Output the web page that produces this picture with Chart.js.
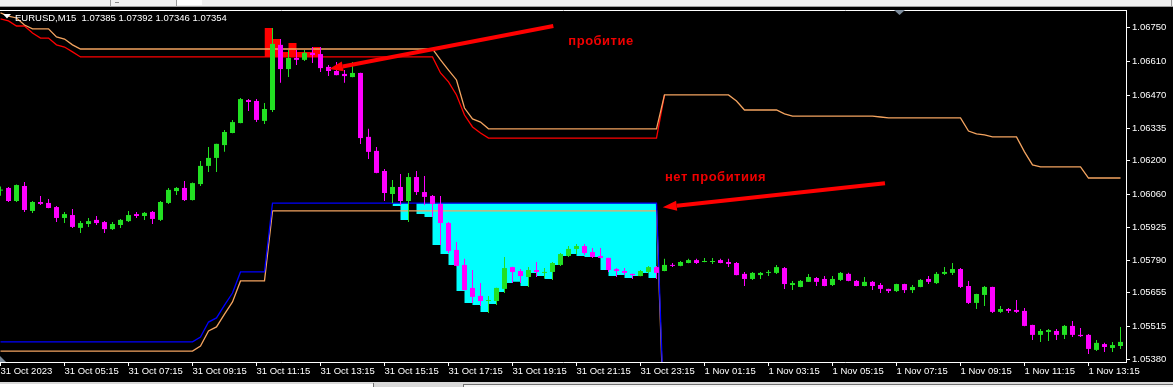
<!DOCTYPE html>
<html><head><meta charset="utf-8">
<script src="https://cdn.jsdelivr.net/npm/chart.js@4.4.0/dist/chart.umd.min.js"></script>
<style>html,body{margin:0;padding:0;background:#000;overflow:hidden}canvas{display:block}</style>
</head><body>
<canvas id="c" width="1173" height="387"></canvas>
<script>
// ---------- DATA ----------
const chartTitle = 'EURUSD,M15  1.07385 1.07392 1.07346 1.07354';
const xTickBars = [0,8,16,24,32,40,48,56,64,72,80,88,96,104,112,120,128,136];
const xTickLabels = ['31 Oct 2023','31 Oct 05:15','31 Oct 07:15','31 Oct 09:15','31 Oct 11:15','31 Oct 13:15','31 Oct 15:15','31 Oct 17:15','31 Oct 19:15','31 Oct 21:15','31 Oct 23:15','1 Nov 01:15','1 Nov 03:15','1 Nov 05:15','1 Nov 07:15','1 Nov 09:15','1 Nov 11:15','1 Nov 13:15'];
const priceTicks = [1.05380,1.05515,1.05655,1.05790,1.05925,1.06060,1.06200,1.06335,1.06470,1.06610,1.06750];

const opens = [
1.06077,1.06088,1.06034,1.06096,1.05993,1.06030,1.06026,1.06009,1.05964,1.05976,
1.05923,1.05939,1.05956,1.05947,1.05918,1.05935,1.05951,1.05980,1.05972,1.05989,
1.05956,1.06026,1.06075,1.06088,1.06038,1.06104,1.06179,1.06212,1.06265,1.06315,
1.06356,1.06451,1.06447,1.06365,1.06410,1.06679,1.06579,1.06625,1.06617,1.06646,
1.06641,1.06588,1.06571,1.06559,1.06546,1.06563,1.06299,1.06241,1.06158,1.06063,
1.06092,1.06034,1.06133,1.06071,1.06055,1.06022,1.05943,1.05832,1.05770,1.05675,
1.05642,1.05621,1.05621,1.05671,1.05761,1.05745,1.05720,1.05749,1.05737,1.05741,
1.05770,1.05807,1.05836,1.05848,1.05823,1.05807,1.05799,1.05753,1.05745,1.05733,
1.05724,1.05741,1.05761,1.05745,1.05770,1.05766,1.05778,1.05790,1.05782,1.05782,
1.05790,1.05782,1.05778,1.05733,1.05712,1.05728,1.05737,1.05737,1.05757,1.05687,
1.05679,1.05700,1.05716,1.05712,1.05687,1.05708,1.05733,1.05704,1.05683,1.05700,
1.05687,1.05671,1.05662,1.05691,1.05666,1.05679,1.05712,1.05695,1.05733,1.05737,
1.05753,1.05683,1.05613,1.05646,1.05679,1.05576,1.05588,1.05584,1.05580,1.05522,
1.05481,1.05493,1.05497,1.05481,1.05518,1.05481,1.05481,1.05419,1.05443,1.05427,
1.05435];
const highs = [
1.06094,1.06092,1.06102,1.06113,1.06034,1.06055,1.06042,1.06013,1.05989,1.06001,
1.05951,1.05964,1.05972,1.05951,1.05947,1.05960,1.05993,1.05989,1.05989,1.05993,
1.06034,1.06088,1.06092,1.06117,1.06110,1.06199,1.06257,1.06271,1.06327,1.06369,
1.06460,1.06455,1.06455,1.06439,1.06749,1.06703,1.06658,1.06658,1.06658,1.06670,
1.06670,1.06596,1.06608,1.06575,1.06608,1.06564,1.06332,1.06257,1.06166,1.06121,
1.06146,1.06150,1.06158,1.06137,1.06059,1.06055,1.05947,1.05865,1.05795,1.05749,
1.05695,1.05642,1.05676,1.05803,1.05762,1.05753,1.05761,1.05782,1.05757,1.05782,
1.05819,1.05848,1.05856,1.05856,1.05840,1.05840,1.05800,1.05757,1.05757,1.05734,
1.05749,1.05766,1.05766,1.05795,1.05778,1.05786,1.05795,1.05795,1.05799,1.05799,
1.05795,1.05795,1.05782,1.05741,1.05741,1.05741,1.05749,1.05770,1.05761,1.05704,
1.05708,1.05733,1.05720,1.05724,1.05724,1.05741,1.05738,1.05708,1.05720,1.05704,
1.05695,1.05672,1.05692,1.05692,1.05687,1.05712,1.05724,1.05741,1.05761,1.05778,
1.05757,1.05704,1.05651,1.05683,1.05680,1.05600,1.05592,1.05625,1.05592,1.05523,
1.05505,1.05505,1.05505,1.05522,1.05538,1.05509,1.05485,1.05460,1.05448,1.05452,
1.05514];
const lows = [
1.06056,1.06030,1.06030,1.05989,1.05984,1.06018,1.06004,1.05947,1.05943,1.05923,
1.05902,1.05927,1.05935,1.05902,1.05914,1.05923,1.05947,1.05964,1.05956,1.05939,
1.05951,1.06022,1.06059,1.06034,1.06036,1.06096,1.06154,1.06154,1.06237,1.06314,
1.06355,1.06406,1.06360,1.06352,1.06402,1.06522,1.06546,1.06596,1.06612,1.06604,
1.06567,1.06550,1.06553,1.06522,1.06545,1.06270,1.06208,1.06149,1.06034,1.06026,
1.06018,1.05947,1.06059,1.06018,1.05968,1.05852,1.05819,1.05765,1.05665,1.05613,
1.05600,1.05571,1.05604,1.05654,1.05695,1.05695,1.05679,1.05720,1.05716,1.05708,
1.05766,1.05803,1.05815,1.05811,1.05799,1.05798,1.05741,1.05720,1.05728,1.05712,
1.05723,1.05737,1.05712,1.05744,1.05761,1.05765,1.05777,1.05774,1.05781,1.05774,
1.05777,1.05761,1.05727,1.05683,1.05708,1.05712,1.05724,1.05733,1.05671,1.05666,
1.05678,1.05699,1.05683,1.05682,1.05683,1.05704,1.05703,1.05682,1.05682,1.05666,
1.05654,1.05654,1.05658,1.05654,1.05654,1.05678,1.05691,1.05691,1.05728,1.05728,
1.05675,1.05609,1.05588,1.05600,1.05571,1.05571,1.05571,1.05571,1.05517,1.05460,
1.05452,1.05456,1.05460,1.05464,1.05472,1.05472,1.05402,1.05414,1.05410,1.05410,
1.05423];
const closes = [
1.06081,1.06034,1.06100,1.05997,1.06030,1.06022,1.06005,1.05964,1.05980,1.05927,
1.05943,1.05951,1.05943,1.05918,1.05939,1.05956,1.05976,1.05972,1.05985,1.05960,
1.06030,1.06080,1.06088,1.06038,1.06108,1.06179,1.06212,1.06270,1.06319,1.06360,
1.06455,1.06443,1.06369,1.06414,1.06683,1.06579,1.06625,1.06617,1.06646,1.06637,
1.06583,1.06571,1.06554,1.06550,1.06563,1.06294,1.06237,1.06150,1.06067,1.06092,
1.06034,1.06133,1.06071,1.06051,1.06022,1.05943,1.05828,1.05766,1.05666,1.05638,
1.05621,1.05625,1.05675,1.05757,1.05741,1.05724,1.05749,1.05741,1.05741,1.05778,
1.05815,1.05836,1.05848,1.05819,1.05803,1.05799,1.05749,1.05745,1.05737,1.05728,
1.05745,1.05761,1.05737,1.05770,1.05766,1.05782,1.05790,1.05778,1.05786,1.05786,
1.05778,1.05774,1.05728,1.05712,1.05737,1.05737,1.05741,1.05761,1.05691,1.05695,
1.05704,1.05720,1.05700,1.05683,1.05712,1.05737,1.05704,1.05683,1.05700,1.05683,
1.05671,1.05662,1.05691,1.05666,1.05679,1.05708,1.05700,1.05733,1.05741,1.05753,
1.05679,1.05613,1.05650,1.05679,1.05576,1.05588,1.05580,1.05576,1.05518,1.05481,
1.05497,1.05501,1.05481,1.05518,1.05481,1.05476,1.05423,1.05448,1.05431,1.05439,
1.05452];

const upperOrange = [
1.06811,1.06798,1.06790,1.06761,1.06745,1.06745,1.06745,1.06712,1.06703,1.06679,
1.06662,1.06662,1.06662,1.06662,1.06662,1.06662,1.06662,1.06662,1.06662,1.06662,
1.06662,1.06662,1.06662,1.06662,1.06662,1.06662,1.06662,1.06662,1.06662,1.06662,
1.06662,1.06662,1.06662,1.06662,1.06662,1.06662,1.06662,1.06662,1.06662,1.06662,
1.06662,1.06662,1.06662,1.06662,1.06662,1.06662,1.06662,1.06662,1.06662,1.06662,
1.06662,1.06662,1.06662,1.06662,1.06662,1.06617,1.06575,1.06534,1.06418,1.06373,
1.06360,1.06332,1.06332,1.06332,1.06332,1.06332,1.06332,1.06332,1.06332,1.06332,
1.06332,1.06332,1.06332,1.06332,1.06332,1.06332,1.06332,1.06332,1.06332,1.06332,
1.06332,1.06332,1.06332,1.06472,1.06472,1.06472,1.06472,1.06472,1.06472,1.06472,
1.06472,1.06472,1.06447,1.06410,1.06410,1.06410,1.06410,1.06410,1.06394,1.06385,
1.06385,1.06385,1.06385,1.06385,1.06385,1.06385,1.06385,1.06385,1.06385,1.06385,
1.06381,1.06377,1.06377,1.06377,1.06377,1.06377,1.06377,1.06377,1.06377,1.06377,
1.06377,1.06323,1.06311,1.06307,1.06299,1.06299,1.06299,1.06299,1.06237,1.06183,
1.06175,1.06175,1.06175,1.06175,1.06175,1.06175,1.06129,1.06129,1.06129,1.06129,
1.06129];
const upperRed = [
1.06786,1.06778,1.06757,1.06757,1.06728,1.06707,1.06707,1.06679,1.06670,1.06650,
1.06629,1.06629,1.06629,1.06629,1.06629,1.06629,1.06629,1.06629,1.06629,1.06629,
1.06629,1.06629,1.06629,1.06629,1.06629,1.06629,1.06629,1.06629,1.06629,1.06629,
1.06629,1.06629,1.06629,1.06629,1.06629,1.06629,1.06629,1.06629,1.06629,1.06629,
1.06629,1.06629,1.06629,1.06629,1.06629,1.06629,1.06629,1.06629,1.06629,1.06629,
1.06629,1.06629,1.06629,1.06629,1.06629,1.06563,1.06526,1.06472,1.06389,1.06340,
1.06315,1.06294,1.06294,1.06294,1.06294,1.06294,1.06294,1.06294,1.06294,1.06294,
1.06294,1.06294,1.06294,1.06294,1.06294,1.06294,1.06294,1.06294,1.06294,1.06294,
1.06294,1.06294,1.06294,1.06472];
const lowerBlue = [
1.05452,1.05452,1.05452,1.05452,1.05452,1.05452,1.05452,1.05452,1.05452,1.05452,
1.05452,1.05452,1.05452,1.05452,1.05452,1.05452,1.05452,1.05452,1.05452,1.05452,
1.05452,1.05452,1.05452,1.05452,1.05452,1.05472,1.05534,1.05551,1.05604,1.05654,
1.05741,1.05741,1.05741,1.05741,1.06025,1.06025,1.06025,1.06025,1.06025,1.06025,
1.06025,1.06025,1.06025,1.06025,1.06025,1.06025,1.06025,1.06025,1.06025,1.06025,
1.06025,1.06025,1.06025,1.06025,1.06025,1.06025,1.06025,1.06025,1.06025,1.06025,
1.06025,1.06025,1.06025,1.06025,1.06025,1.06025,1.06025,1.06025,1.06025,1.06025,
1.06025,1.06025,1.06025,1.06025,1.06025,1.06025,1.06025,1.06025,1.06025,1.06025,
1.06025,1.06025,1.06025,1.05088];
const lowerOrange = [
1.05414,1.05414,1.05414,1.05414,1.05414,1.05414,1.05414,1.05414,1.05414,1.05414,
1.05414,1.05414,1.05414,1.05414,1.05414,1.05414,1.05414,1.05414,1.05414,1.05414,
1.05414,1.05414,1.05414,1.05414,1.05414,1.05435,1.05497,1.05514,1.05567,1.05617,
1.05704,1.05704,1.05704,1.05704,1.05993,1.05993,1.05993,1.05993,1.05993,1.05993,
1.05993,1.05993,1.05993,1.05993,1.05993,1.05993,1.05993,1.05993,1.05993,1.05993,
1.05993,1.05993,1.05993,1.05993,1.05993,1.05993,1.05993,1.05993,1.05993,1.05993,
1.05993,1.05993,1.05993,1.05993,1.05993,1.05993,1.05993,1.05993,1.05993,1.05993,
1.05993,1.05993,1.05993,1.05993,1.05993,1.05993,1.05993,1.05993,1.05993,1.05993,
1.05993,1.05993,1.05993,1.05047];

const cyanFirstBar = 49;
const cyanTop = 1.06025;
const cyanLow = [1.06025,1.06013,1.05956,1.06025,1.05980,1.05968,1.05852,1.05815,1.05770,1.05662,
1.05613,1.05604,1.05576,1.05609,1.05658,1.05695,1.05700,1.05683,1.05737,1.05724,
1.05712,1.05770,1.05807,1.05815,1.05807,1.05803,1.05803,1.05749,1.05724,1.05728,
1.05716,1.05724,1.05737,1.05716];
const redZoneFirstBar = 33;
const redZoneBase = 1.06629;
const redZoneHigh = [1.06629,1.06749,1.06703,1.06650,1.06687,1.06650,1.06650,1.06670];

const noteTexts = ['пробитие','нет пробитиия'];
const noteBars = [70.98, 83.06];
const notePrices = [1.06680, 1.06117];
const arrowTailBars = [69.10, 110.56];
const arrowTailPrices = [1.06757, 1.06107];
const arrowHeadBars = [41.06, 82.78];
const arrowHeadPrices = [1.06579, 1.06008];

// ---------- STYLE ----------
const GREEN = '#22e022', MAGENTA = '#ff00ff', CYAN = '#00ffff', RED = '#ff0000',
      ORANGE = '#f4a460', BLUE = '#0000ff', NOTE_RED = '#f00000';
const FONT = "'Liberation Sans', Arial, sans-serif";
Chart.defaults.font.family = FONT;

const pts = (arr, start) => arr.map((v, i) => ({x: start + i, y: v}));
const candleColors = opens.map((o, i) => closes[i] > o ? GREEN : MAGENTA);

const lineDs = (data, color, order) => ({
  type: 'line', data: pts(data, 0), borderColor: color, borderWidth: 1.3,
  pointRadius: 0, tension: 0, fill: false, order, xAxisID: 'x', yAxisID: 'y'
});

const decor = {
  id: 'decor',
  beforeDraw(chart) {
    const ctx = chart.ctx, W = chart.width, H = chart.height;
    ctx.save();
    ctx.fillStyle = '#000'; ctx.fillRect(0, 0, W, H);
    ctx.fillStyle = '#f0f0f0'; ctx.fillRect(0, 0, W, 6);
    ctx.fillStyle = '#a0a0a0'; ctx.fillRect(0, 6, W, 1);
    ctx.fillStyle = '#9a9a9a'; ctx.fillRect(110, 0, 1, 6); ctx.fillRect(176, 0, 1, 6); ctx.fillRect(1171, 0, 1, 6);
    ctx.fillStyle = '#ffffff'; ctx.fillRect(177, 0, 25, 5);
    ctx.fillStyle = '#8a8a8a'; ctx.fillRect(115, 2, 4, 1);
    // bottom tab strip
    ctx.fillStyle = '#d8d8d8'; ctx.fillRect(0, 382, W, 5);
    ctx.fillStyle = '#ffffff'; ctx.fillRect(0, 384, 373, 3);
    ctx.fillStyle = '#f4f4f4'; ctx.fillRect(463, 385, W - 463, 2);
    ctx.fillStyle = '#707070'; ctx.fillRect(373, 383, 1, 4); ctx.fillRect(463, 384, W - 463, 1); ctx.fillRect(463, 384, 1, 3);
    ctx.restore();
  },
  afterDraw(chart) {
    const ctx = chart.ctx, xs = chart.scales.x, ys = chart.scales.y;
    ctx.save();
    ctx.fillStyle = '#7d8c9c';
    ctx.beginPath(); ctx.moveTo(894, 10); ctx.lineTo(905, 10); ctx.lineTo(899.5, 15); ctx.closePath(); ctx.fill();
    ctx.beginPath(); ctx.moveTo(0, 356); ctx.lineTo(6, 362); ctx.lineTo(0, 362); ctx.closePath(); ctx.fill();
    ctx.fillStyle = '#ffffff';
    ctx.beginPath(); ctx.moveTo(3, 14); ctx.lineTo(11, 14); ctx.lineTo(7, 18.5); ctx.closePath(); ctx.fill();
    ctx.font = '9.5px ' + FONT; ctx.textBaseline = 'alphabetic'; ctx.textAlign = 'left';
    ctx.fillText(chartTitle, 15, 21);
    ctx.strokeStyle = RED; ctx.fillStyle = RED; ctx.lineWidth = 4; ctx.lineCap = 'butt';
    for (let i = 0; i < arrowTailBars.length; i++) {
      const x1 = xs.getPixelForValue(arrowTailBars[i]), y1 = ys.getPixelForValue(arrowTailPrices[i]);
      const x2 = xs.getPixelForValue(arrowHeadBars[i]), y2 = ys.getPixelForValue(arrowHeadPrices[i]);
      const a = Math.atan2(y2 - y1, x2 - x1), hl = 14, hw = 5;
      const bx = x2 - hl * Math.cos(a), by = y2 - hl * Math.sin(a);
      ctx.beginPath(); ctx.moveTo(x1, y1); ctx.lineTo(bx, by); ctx.stroke();
      ctx.beginPath(); ctx.moveTo(x2, y2);
      ctx.lineTo(bx - hw * Math.sin(a), by + hw * Math.cos(a));
      ctx.lineTo(bx + hw * Math.sin(a), by - hw * Math.cos(a));
      ctx.closePath(); ctx.fill();
    }
    ctx.fillStyle = NOTE_RED; ctx.font = 'bold 13px ' + FONT;
    try { ctx.letterSpacing = '0.5px'; } catch (e) {}
    for (let i = 0; i < noteTexts.length; i++) {
      ctx.fillText(noteTexts[i], xs.getPixelForValue(noteBars[i]), ys.getPixelForValue(notePrices[i]));
    }
    ctx.restore();
  }
};

new Chart(document.getElementById('c'), {
  type: 'line',
  data: {
    datasets: [
      { type: 'line', data: pts(redZoneHigh, redZoneFirstBar), stepped: 'after', borderWidth: 0,
        pointRadius: 0, backgroundColor: RED, fill: {value: redZoneBase}, order: 20, xAxisID: 'x', yAxisID: 'y' },
      { type: 'line', data: pts(cyanLow, cyanFirstBar), stepped: 'after', borderWidth: 0,
        pointRadius: 0, backgroundColor: CYAN, fill: {value: cyanTop}, order: 20, xAxisID: 'x', yAxisID: 'y' },
      lineDs(lowerOrange, ORANGE, 9),
      lineDs(lowerBlue, BLUE, 8),
      lineDs(upperRed, RED, 7),
      lineDs(upperOrange, ORANGE, 6),
      { type: 'bar', data: lows.map((l, i) => ({x: i, y: [l, highs[i]]})), backgroundColor: candleColors,
        barThickness: 1, grouped: false, borderWidth: 0, inflateAmount: 0, order: 2, xAxisID: 'x', yAxisID: 'y' },
      { type: 'bar', data: opens.map((o, i) => ({x: i, y: [o, closes[i]]})), backgroundColor: candleColors,
        barThickness: 5, minBarLength: 1, grouped: false, borderWidth: 0, inflateAmount: 0, order: 1, xAxisID: 'x', yAxisID: 'y' }
    ]
  },
  options: {
    responsive: false, devicePixelRatio: 1, animation: false, events: [],
    layout: { padding: 0 },
    plugins: { legend: { display: false }, tooltip: { enabled: false }, title: { display: false } },
    scales: {
      x: {
        type: 'linear', position: 'bottom', min: -0.0625, max: 140.6875, offset: false, bounds: 'data',
        afterBuildTicks: s => { s.ticks = xTickBars.map(v => ({value: v})); },
        afterFit: s => { s.height = 25; },
        ticks: { autoSkip: false, maxRotation: 0, minRotation: 0, align: 'start', color: '#ffffff', padding: 0,
                 font: { size: 9.5, family: FONT }, callback: (v, i) => xTickLabels[i] },
        grid: { drawOnChartArea: false, drawTicks: true, tickLength: 4, color: '#ffffff', lineWidth: 1, offset: false },
        border: { display: true, color: '#ffffff', width: 1 }
      },
      xTop: {
        type: 'linear', axis: 'x', position: 'top', min: 0, max: 1,
        afterFit: s => { s.height = 10; },
        ticks: { display: false }, grid: { display: false },
        border: { display: true, color: '#ffffff', width: 1 }
      },
      y: {
        type: 'linear', position: 'right', min: 1.05369, max: 1.06823, bounds: 'data',
        afterBuildTicks: s => { s.ticks = priceTicks.map(v => ({value: v})); },
        afterFit: s => { s.width = 47; },
        ticks: { color: '#ffffff', padding: 2, font: { size: 9.5, family: FONT }, callback: v => v.toFixed(5) },
        grid: { drawOnChartArea: false, drawTicks: true, tickLength: 4, color: '#ffffff', lineWidth: 1 },
        border: { display: true, color: '#ffffff', width: 1 }
      }
    }
  },
  plugins: [decor]
});
</script>
</body></html>
